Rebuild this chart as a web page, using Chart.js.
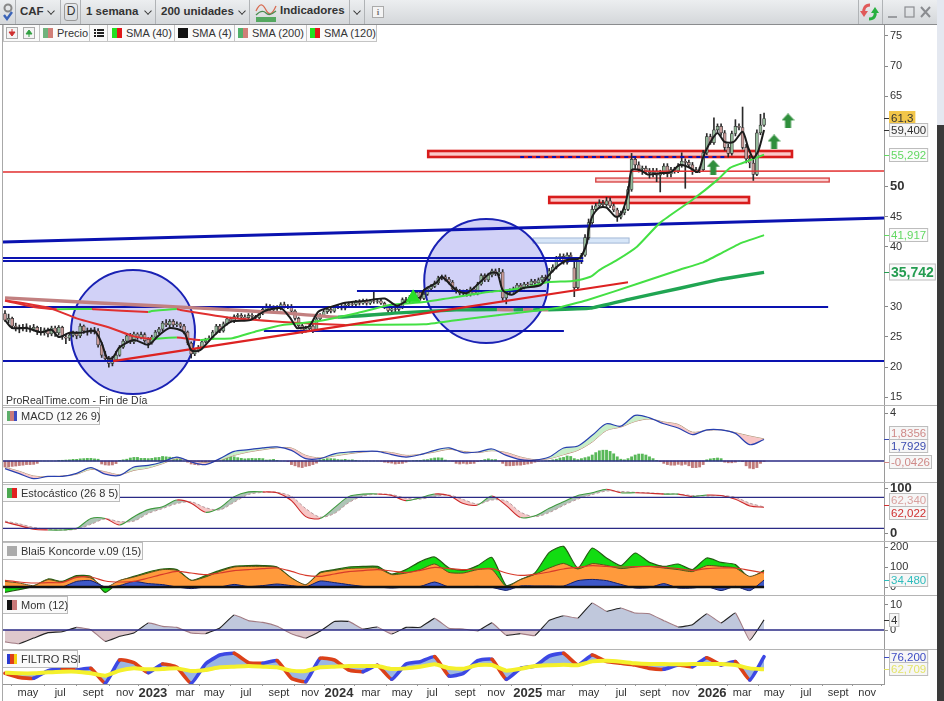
<!DOCTYPE html>
<html>
<head>
<meta charset="utf-8">
<title>CAF</title>
<script src="https://cdn.jsdelivr.net/npm/chart.js@4/dist/chart.umd.min.js"></script>
<style>
  html, body { margin: 0; padding: 0; background: #fff; }
  #app { position: relative; width: 944px; height: 701px; overflow: hidden; background: #fff; font-family: "Liberation Sans", Arial, sans-serif; color: #333; }
  canvas { position: absolute; left: 0; display: block; }
  .bar { position: absolute; left: 0; top: 0; width: 937px; height: 24px; background: linear-gradient(#eceef0, #d4d7da); border-bottom: 1px solid #8a8c8e; }
  .bar span { position: absolute; top: 5px; font-size: 11.5px; font-weight: bold; white-space: nowrap; }
  .sep { position: absolute; top: 0; width: 1px; height: 24px; background: #b0b3b6; }
  .caret { position: absolute; top: 8px; width: 5px; height: 5px; border-right: 1.6px solid #333; border-bottom: 1.6px solid #333; transform: rotate(45deg) scale(.9); }
  .chips { position: absolute; left: 3px; top: 25px; width: 374px; height: 17px; background: #fafafa; border: 1px solid #c4c4c4; border-top: 0; box-sizing: border-box; }
  .chips span { position: absolute; top: 2px; font-size: 11px; white-space: nowrap; }
  .chips i { position: absolute; top: 3px; width: 10px; height: 10px; }
  .chips b { position: absolute; top: 0; width: 1px; height: 17px; background: #c4c4c4; }
  .tag { position: absolute; left: 3px; height: 18px; background: #fafafa; border: 1px solid #bcbcbc; border-left: 0; box-sizing: border-box; font-size: 11px; line-height: 16px; padding-left: 18px; white-space: nowrap; }
  .tag i { position: absolute; left: 4px; top: 3px; width: 10px; height: 10px; }
  .rule { position: absolute; left: 3px; width: 934px; height: 1px; background: #b4b4b4; }
</style>
</head>
<body>
<div id="app">
  <div class="bar">
    <svg style="position:absolute;left:2px;top:2px" width="12" height="20"><circle cx="6" cy="6" r="3.5" fill="none" stroke="#888" stroke-width="2"/><path d="M2 13l3 4 5-7" fill="none" stroke="#3a63b8" stroke-width="2.4"/></svg>
    <div class="sep" style="left:15px"></div>
    <span style="left:20px">CAF</span><div class="caret" style="left:48px"></div>
    <div class="sep" style="left:60px"></div>
    <div style="position:absolute;left:64px;top:3px;width:12px;height:16px;border:1px solid #999;border-radius:3px;font-size:12px;text-align:center;line-height:15px">D</div>
    <div class="sep" style="left:80px"></div>
    <span style="left:86px">1 semana</span><div class="caret" style="left:145px"></div>
    <div class="sep" style="left:155px"></div>
    <span style="left:161px">200 unidades</span><div class="caret" style="left:239px"></div>
    <div class="sep" style="left:249px"></div>
    <svg style="position:absolute;left:255px;top:2px" width="22" height="20"><rect x="1" y="15" width="20" height="5" fill="#54a860"/><path d="M1 9c4-9 7-7 10-1s6 5 10-4" fill="none" stroke="#d86a50" stroke-width="1.3"/><path d="M1 13c4-4 7-5 10-2s6 1 10-2" fill="none" stroke="#4a8a50" stroke-width="1.3"/></svg>
    <span style="left:280px;top:4px">Indicadores</span>
    <div class="sep" style="left:349px"></div><div class="caret" style="left:354px"></div>
    <div class="sep" style="left:364px"></div>
    <div style="position:absolute;left:372px;top:6px;width:10px;height:10px;border:1px solid #aaa;background:#f4f4f4;font:bold 9px 'Liberation Serif';text-align:center;line-height:10px;color:#777">i</div>
    <div class="sep" style="left:858px"></div>
    <svg style="position:absolute;left:860px;top:3px" width="20" height="18"><path d="M10 2C5 2 3 6 4 10" fill="none" stroke="#e05a5a" stroke-width="3"/><path d="M0 8l4 6 4-6z" fill="#e05a5a"/><path d="M9 16c5 0 7-3 6-8" fill="none" stroke="#28b040" stroke-width="3"/><path d="M11 10l4-6 4 6z" fill="#28b040"/></svg>
    <div class="sep" style="left:882px"></div>
    <svg style="position:absolute;left:888px;top:6px" width="44" height="13" fill="none" stroke="#8a8c90" stroke-width="1.6"><path d="M0 11h9"/><rect x="17" y="1" width="9" height="10" stroke-width="1.2"/><path d="M33 1l9 10M42 1l-9 10" stroke-width="2"/></svg>
  </div>

  <div class="chips">
    <svg style="position:absolute;left:2px;top:2px" width="34" height="13"><rect x=".5" y=".5" width="11" height="11" fill="#f4f4f4" stroke="#aaa"/><path d="M6 2v4M3 5l3 4 3-4z" fill="#d03030" stroke="#d03030"/><rect x="17.500" y=".5" width="11" height="11" fill="#f4f4f4" stroke="#aaa"/><path d="M23 10V6M20 7l3-4 3 4z" fill="#30a040" stroke="#30a040"/></svg>
    <b style="left:35px"></b>
    <i style="left:39px;background:linear-gradient(90deg,#6fb27c 50%,#d07f78 50%)"></i><span style="left:53px">Precio</span>
    <b style="left:85px"></b>
    <svg style="position:absolute;left:90px;top:3px" width="10" height="10" fill="#222"><path d="M0 1h2v2H0zM3 1h7v2H3zM0 4h2v2H0zM3 4h7v2H3zM0 7h2v2H0zM3 7h7v2H3z"/></svg>
    <b style="left:103px"></b>
    <i style="left:108px;background:linear-gradient(90deg,#22e022 50%,#e01818 50%)"></i><span style="left:122px">SMA (40)</span>
    <b style="left:170px"></b>
    <i style="left:174px;background:#111"></i><span style="left:188px">SMA (4)</span>
    <b style="left:230px"></b>
    <i style="left:234px;background:linear-gradient(90deg,#52b06a 50%,#d07f78 50%)"></i><span style="left:248px">SMA (200)</span>
    <b style="left:302px"></b>
    <i style="left:306px;background:linear-gradient(90deg,#22e022 50%,#e01818 50%)"></i><span style="left:320px">SMA (120)</span>
  </div>
</div>

<script>
// candle rows, one per week, week 0 = april 2022
const candleOpen = [
  28.9,27.8,28.1,26.8,26.5,26.3,26.7,26.5,26.3,26.6,
  26.0,25.7,26.2,25.5,26.5,25.7,26.6,25.0,24.8,25.3,
  25.6,25.2,26.8,26.0,25.8,26.2,26.0,23.7,22.0,21.4,
  20.6,21.2,22.0,23.3,24.3,25.2,24.2,25.5,24.9,25.4,
  24.6,24.0,25.0,25.8,26.3,27.3,27.0,27.6,27.0,27.2,
  26.8,25.8,24.0,22.2,22.8,23.2,24.2,24.5,24.8,25.8,
  26.8,26.0,27.2,28.0,27.7,28.4,28.6,28.3,28.2,28.6,
  28.4,28.2,28.9,29.6,30.1,29.5,29.9,29.7,30.4,30.0,
  30.1,29.3,28.1,26.9,26.1,26.4,26.8,26.1,28.0,28.6,
  29.2,29.6,29.3,29.9,30.1,29.8,30.3,30.5,30.4,30.8,
  30.6,31.0,30.6,31.0,30.9,31.0,30.6,30.0,29.4,29.7,
  29.6,29.9,31.2,31.0,31.6,31.8,32.4,31.4,32.1,33.0,
  33.4,34.0,34.8,35.0,34.6,34.1,33.0,32.6,32.3,32.6,
  32.1,33.0,32.2,33.8,35.2,34.5,35.3,36.0,35.5,35.8,
  31.5,32.4,32.7,33.0,33.6,33.3,33.8,33.7,34.3,34.0,
  34.5,34.9,34.6,36.0,36.6,38.0,38.4,37.4,38.6,36.5,
  33.2,37.5,38.6,41.5,44.0,46.2,46.8,47.2,47.0,47.6,
  46.8,46.1,44.9,45.6,46.2,49.5,54.5,53.6,52.9,53.0,
  52.6,52.3,52.6,51.9,52.3,53.4,52.1,52.8,52.6,53.4,
  54.2,54.0,53.6,52.6,52.8,52.8,55.6,58.3,57.3,59.4,
  60.0,58.9,56.5,55.5,58.8,60.0,59.8,56.5,54.6,53.9,
  52.0,58.9,60.2
];
const candleHigh = [
  29.4,28.8,28.3,27.3,27.0,27.1,27.2,26.9,27.1,26.8,
  26.6,26.5,26.5,26.8,26.8,26.9,26.8,25.5,25.6,26.0,
  25.9,27.2,27.0,26.5,26.5,26.6,26.4,24.1,22.6,21.8,
  21.8,22.6,23.6,24.6,25.6,25.6,25.8,25.7,25.8,25.7,
  24.9,25.3,26.1,26.6,27.6,27.9,27.9,27.9,27.5,27.4,
  27.1,26.0,24.2,23.1,23.6,24.5,24.8,25.2,26.1,27.1,
  27.1,27.5,28.3,28.3,28.7,28.9,28.9,28.7,28.9,28.9,
  28.6,29.1,29.9,30.5,30.4,30.2,30.2,30.7,30.8,30.4,
  30.4,29.5,28.3,27.1,26.8,27.1,27.1,28.3,28.9,29.5,
  29.9,29.9,30.2,30.4,30.4,30.6,30.8,30.9,31.1,31.2,
  31.3,31.3,31.2,32.7,31.3,31.3,30.8,30.2,30.0,30.1,
  30.3,31.5,31.6,31.9,32.1,32.7,32.7,32.4,33.3,33.7,
  34.3,35.1,35.3,35.3,34.9,34.4,33.3,32.9,32.8,32.9,
  33.3,33.3,34.1,35.5,35.5,35.6,36.3,36.3,36.4,36.2,
  32.7,33.0,33.3,33.9,33.9,34.1,34.1,34.6,34.6,34.8,
  35.2,35.3,36.4,37.0,38.4,38.8,38.8,39.0,39.0,37.5,
  37.8,38.9,42.0,44.6,46.8,47.2,47.8,47.7,48.2,48.1,
  47.1,46.4,45.9,46.6,50.0,55.5,54.9,54.1,53.4,53.4,
  53.0,53.0,53.0,52.7,53.8,53.8,53.2,53.2,53.8,55.6,
  54.6,54.4,54.0,53.2,53.2,56.0,58.8,58.7,61.4,60.4,
  60.4,59.3,57.0,59.2,61.1,60.4,63.2,57.0,55.2,54.5,
  59.4,62.0,62.2
];
const candleLow = [
  27.6,27.3,26.4,26.0,25.7,26.0,25.9,25.8,26.0,25.4,
  25.3,25.3,25.0,25.2,25.1,25.3,24.6,23.9,24.4,25.0,
  24.7,24.9,25.6,25.3,25.6,25.5,23.3,21.6,20.9,20.0,
  20.2,21.0,21.8,23.1,24.0,23.9,23.9,24.6,24.7,24.1,
  23.2,23.8,24.7,25.5,26.0,26.7,26.7,26.7,26.7,26.5,
  25.5,23.7,21.5,21.9,22.5,23.0,24.0,24.3,24.6,25.5,
  25.7,25.8,27.0,27.4,27.4,28.2,28.0,27.9,28.0,27.9,
  27.9,28.0,28.7,29.4,29.2,29.3,29.4,29.5,29.8,29.7,
  29.0,27.8,26.6,25.6,25.8,26.2,25.7,25.9,27.8,28.4,
  28.9,29.0,29.1,29.7,29.5,29.5,30.1,30.1,30.2,30.3,
  30.4,30.3,30.4,30.6,30.6,30.4,29.7,29.1,29.0,29.2,
  29.3,29.7,30.7,30.7,31.3,31.5,31.1,31.2,31.9,32.8,
  33.2,33.7,34.5,34.3,33.8,32.7,32.3,32.0,32.0,31.8,
  31.8,32.0,32.0,33.6,34.2,34.2,35.0,35.2,35.2,31.1,
  30.5,32.1,32.4,32.8,33.0,33.0,33.4,33.5,33.7,33.8,
  34.2,34.3,34.4,35.8,36.3,37.7,37.1,37.1,37.9,31.7,
  33.0,37.2,38.4,41.2,43.7,45.9,46.5,46.6,46.7,46.5,
  45.8,44.2,44.6,45.3,46.0,49.2,53.0,52.4,52.0,52.1,
  51.4,51.6,50.8,49.1,52.0,51.6,51.6,52.2,52.3,53.2,
  49.7,53.2,52.0,52.3,52.3,52.6,55.3,57.0,57.0,59.1,
  58.5,56.0,54.9,55.2,58.4,59.4,56.2,53.9,53.1,51.0,
  51.8,58.6,60.0
];
const candleClose = [
  27.8,28.1,26.8,26.5,26.3,26.6,26.5,26.3,26.6,26.0,
  25.7,26.2,25.5,26.5,25.7,26.6,25.0,24.8,25.3,25.6,
  25.2,26.8,26.0,25.8,26.2,25.9,23.7,22.0,21.4,20.6,
  21.2,22.0,23.3,24.3,25.2,24.2,25.5,24.9,25.4,24.4,
  24.0,25.0,25.8,26.3,27.3,27.0,27.6,27.0,27.2,26.8,
  25.8,24.0,22.2,22.8,23.2,24.2,24.5,24.8,25.8,26.8,
  26.0,27.2,28.0,27.7,28.4,28.6,28.3,28.2,28.6,28.4,
  28.2,28.9,29.6,30.1,29.5,29.9,29.7,30.4,30.0,30.1,
  29.3,28.1,26.9,26.1,26.4,26.8,26.1,28.0,28.6,29.2,
  29.6,29.3,29.9,30.1,29.8,30.3,30.5,30.4,30.8,30.6,
  31.0,30.6,31.0,30.9,31.0,30.6,30.0,29.4,29.7,29.6,
  29.9,31.2,31.0,31.6,31.8,32.4,31.4,32.1,33.0,33.4,
  34.0,34.8,35.0,34.6,34.1,33.0,32.6,32.3,32.6,32.1,
  33.0,32.2,33.8,35.2,34.5,35.3,36.0,35.5,35.8,31.5,
  32.4,32.7,33.0,33.6,33.3,33.8,33.7,34.3,34.0,34.5,
  34.9,34.6,36.0,36.6,38.0,38.4,37.4,38.6,38.3,33.2,
  37.5,38.6,41.5,44.0,46.2,46.8,47.2,47.0,47.6,46.8,
  46.1,44.9,45.6,46.2,49.5,54.5,53.6,52.9,53.0,52.6,
  52.3,52.6,51.9,52.3,53.4,52.1,52.8,52.6,53.4,54.2,
  54.0,53.6,52.6,52.8,52.8,55.6,58.3,57.3,59.4,60.0,
  58.9,56.5,55.5,58.8,60.0,59.8,56.5,54.6,53.9,52.0,
  58.9,60.2,61.3
];

// moving averages at the weeks listed
const sma4Weeks = [0,2,6,10,13,15,18,21,25,27,28.5,30,32,36,40,43,46,50,52,54.5,58,63,68.5,72.5,77,79.5,81.5,82.5,85,87.5,91,95,100.5,106,109.5,113,116,117,120.5,122,126,129,132.5,135.5,137.5,139,141.5,144.5,149.5,151.5,154,157,160.5,162.5,163,164,166,168,170.5,172,174,175,177.5,179.5,183,186,188.5,191,193.5,195,197,199,201,203.5,206,207.5,209,210.5,212];
const sma4Values = [27.8,26.5,26.5,25.8,26.2,25,25.7,25.7,26,24,21.5,21.5,23.3,24.5,23.7,25.3,26.5,25.8,22.8,22.8,25,27.5,27.8,29.3,29.8,28.3,26.5,26.5,26.8,29.2,30,30.7,31,31.4,30.2,31.3,31.6,32.8,34,35,32.8,32.3,34,35.6,35.6,32.8,32,33.1,33.6,35,36.6,37.8,38.1,40.6,42.8,45,46.5,46.5,45,45.3,48.9,52.7,52.7,52,52.2,52.4,53.6,53.2,52.4,54.9,57.4,58.9,57.4,57.4,59.1,56.6,54.7,56.1,59.4];
const sma40Weeks = [0,12.5,20,29.5,36,41,44,48,54.5,58.5,63.5,70.5,77.5,82.5,89,98.5,107.5,117,124.5,135.5,144.5,151.5,158.5,163.5,166,171,176.5,183,192,199,202.5,206,212];
const sma40Values = [31.1,29.8,28.1,26.5,25.1,24.7,24.8,24.9,24.5,24.7,24.8,26,27,27.3,27.8,29,30.3,30.8,31.5,32.5,33.1,34.1,34.3,35,36.1,37.8,40,44,47.8,51.1,53.1,53.9,55.292];
const sma120Weeks = [0,8,14.5,19.5,24.3,25,40,41,48,49,63.5,77.5,88,95,102,117,126,137.5,154,162.5,177.5,188,195,200,205.5,212];
const sma120Values = [31,30,29.62,29.64,29.66,29.6,29.15,29.3,29.65,29.5,28.15,27.5,27.15,27,27.05,27.1,27.8,28.6,29.8,31.1,34,36.1,37.4,38.9,40.6,41.917];
const sma200Weeks = [0,26.5,54.5,77.7,93,110,126,137.4,142,144.7,147.5,149.4,151.7,163.5,174.5,188.5,200,212];
const sma200Values = [31.5,30.65,29.8,29,28.3,29,29.5,29.55,29.5,29.55,29.5,29.55,29.5,29.8,31.3,33.1,34.6,35.742];

// drawn objects on the price panel: [week, price] pairs
const blueChannel = [[-0.56,40.78],[245.5,44.77]];
const navyUpper = [[-0.56,38.12],[161.5,38.12]];
const navyLower = [[-0.56,37.62],[161.5,37.62]];
const navyThirty = [[-0.56,30],[229.9,30]];
const navyShort = [[72.3,26],[156.1,26]];
const navyCircle = [[98.3,32.64],[151.1,32.64]];
const navyTwenty = [[-0.56,21],[245.5,21]];
const navyDashed = [[143.9,54.9],[201.7,54.9]];
const redLevel = [[-0.56,52.4],[245.5,52.57]];
const redTrend = [[30.2,21],[174,34.1]];
const circleCentres = [[35.75,25.83],[134.4,34.3]];
const upArrows = [[218.7,60.9],[214.8,57.4],[197.8,53.2]];
const greenMarker = [[114,31.5]];
// [week start, week end, price top, price bottom]
const redZoneTop = [118.2,219.8,55.9,54.9];
const redZoneLow = [152,207.8,48.26,47.26];
const redZoneThin = [165,230.2,51.4,50.75];
const blueZone = [147.5,174.3,41.45,40.6];

// indicators sampled every 4 weeks
const sampleWeeks = [0,4,8,12,16,20,24,28,32,36,40,44,48,52,56,60,64,68,72,76,80,84,88,92,96,100,104,108,112,116,120,124,128,132,136,140,144,148,152,156,160,164,168,172,176,180,184,188,192,196,200,204,208,212];
const macdLine = [-.64,-1.05,-1.47,-1.28,-1.28,-1.03,-.56,-1.1,-1.2,-.5,-.36,-.08,.33,-.08,-.3,.2,.8,.94,1.1,1.17,.89,.2,.2,.6,.75,.8,.8,.53,.33,.53,.89,1.1,.7,.75,1,.47,.11,.08,.33,1.08,1.25,2.14,3.1,2.9,3.8,3.6,3.1,2.75,2.2,2.6,2.6,2.3,1.36,1.79];
const macdSignal = [-.53,-.86,-1.25,-1.3,-1.25,-1.1,-.7,-.9,-1.14,-.78,-.58,-.22,.2,0,-.14,.05,.47,.75,.94,1.1,1.08,.47,.25,.42,.6,.75,.8,.7,.47,.55,.75,.97,.8,.7,.86,.7,.33,.11,.2,.53,.89,1.58,2.55,2.83,3.3,3.5,3.25,3.05,2.4,2.55,2.6,2.36,2.08,1.84];
// one bar per week
const macdHist = [
  -.5,-.5,-.45,-.42,-.38,-.35,-.3,-.3,-.28,-.2,
  0,0,0,0,0,.05,.06,.08,.1,.14,
  .14,.18,.2,.22,.22,.18,.15,
  -.25,-.33,-.35,-.33,-.22,
  .05,.1,.15,.25,.3,.3,.22,.22,.2,.22,.28,.3,.38,.35,.32,.3,.3,.2,
  0,-.1,-.25,-.3,-.33,-.3,-.2,-.08,0,.02,
  .1,.2,.3,.4,.35,.28,.22,.18,.2,.22,.2,.22,.2,.08,.1,.14,.05,
  0,0,
  -.05,-.3,-.4,-.5,-.55,-.45,-.4,-.3,-.18,
  .1,.15,.2,.2,.18,.12,.1,.14,.08,.1,.05,
  0,0,0,0,0,0,-.02,
  -.1,-.15,-.18,-.25,-.22,-.2,-.1,
  0,.03,.05,
  .05,.1,.12,.2,.25,.27,.25,.08,
  0,-.02,
  -.2,-.25,-.2,-.25,-.22,-.2,
  -.05,.05,.12,.18,.12,.12,-.02,
  -.2,-.4,-.4,-.38,-.35,-.35,-.3,-.25,-.2,-.1,
  -.03,0,.02,.05,
  .1,.15,.25,.3,.42,.38,.2,.12,.2,.28,.35,.5,.7,.85,.9,.9,.8,.6,.35,.15,.1,.2,.35,.5,.58,.58,.5,
  .35,.2,.05,
  -.05,-.2,-.3,-.35,-.35,-.28,-.35,-.28,-.4,-.55,-.55,-.5,-.3,
  .1,.18,.22,.25,.2,
  -.1,-.15,-.15,-.1,
  0,-.05,
  -.4,-.6,-.65,-.55,-.2,-.04
];
const stochK = [25,17,9,7.4,7.4,11,33,33,18.5,37,52.6,59,74,67,46.7,57,81.5,92,92,90,72.6,37,33,57,81.5,87,87.4,84,72.6,79,87.4,84,66,63,83,61.5,35,39,55.6,70,84,90,98,90,90,89,87,87,81.5,85,84,75.6,60.7,58];
const stochD = [27,21,13,9,7.5,9,20,32,26,27,44,55,66,70,57,52,69,86,91,91,82,55,36,44,68,83,87,86,78,76,82,85,75,65,74,72,47,37,46,62,76,86,94,93,91,90,88,87,84,83,84,80,67,58.500];
const koncordeGreen = [-27,-13,3,40,28,57,53,-27,28,53,75,90,87,33,57,83,103,107,107,100,45,8,73,87,100,103,103,65,87,127,150,95,83,107,148,7,37,70,173,203,95,195,145,107,170,123,103,115,87,145,123,112,45,83];
const koncordeOrange = [28,20,7,37,25,53,45,-2,33,50,70,87,83,33,50,78,100,103,103,98,45,12,70,83,93,95,95,62,70,87,115,73,70,87,88,3,37,63,95,118,90,117,108,92,100,103,95,87,77,107,103,95,53,78];
const koncordeBlue = [0,0,0,-3,0,28,32,0,7,28,17,12,0,-8,0,0,13,2,7,15,7,0,30,22,12,3,0,-5,0,3,25,0,0,3,-2,-17,5,5,5,5,32,38,32,13,-5,-3,17,-5,-5,2,-18,3,-18,34.48];
const koncordeRed = [33,25,20,22,23,48,50,30,25,28,45,63,78,70,62,70,82,87,92,95,78,58,53,65,77,82,87,80,73,83,98,92,87,90,92,70,58,63,75,90,98,107,103,100,102,103,98,92,83,92,95,95,83,70];
const momentum = [-4.7,-5.4,-3.2,-1.05,-.66,1.05,.13,-4.5,-2.5,-1.2,2.8,1.45,1.05,-1.2,-1.45,.8,5.9,3.7,3,1.45,-1.45,-3.2,-.5,3.4,3.4,.4,1.2,-1.6,1.05,1.05,4.6,.66,.4,-.4,2.8,-2.1,-1.45,-2.2,3.8,5.66,4.7,10.7,7.4,8.7,6.7,6.45,3.7,1.2,2.1,6.45,2.8,6.7,-4.1,4];
const rsiFilter = [58.4,54.1,53.1,61.3,63.7,62,63.7,47.7,72.6,69.8,59.1,68.4,64.8,47.7,68.4,78,79.8,69.8,69.1,71.9,53.1,49.5,74.4,72.6,62,60.2,67,52,68.4,70.9,76.2,55.6,58.4,71.9,73.4,52,63.7,66.2,76.9,79.8,67.3,78,70.9,69.1,67.3,63.7,62.7,67.3,65.5,75.1,67.3,70.9,51.3,76.2];
const rsiSignal = [59.1,58.4,58.4,59.5,60.2,60.2,58.4,55.9,61.3,63.7,62.7,63,63.7,60.9,62,64.8,65.5,66.2,65.5,64.8,61.3,60.9,64.8,65.5,66.2,66.2,66.2,63,63.7,65.5,68,64,63.3,67.3,67.3,61.3,63.4,66.2,67,67.6,67,71.2,71.9,70.9,69.1,68.4,68.4,68,68.4,68.4,68.4,67.3,63.7,62.709];

// x axis
const monthLabels = ['may','jul','sept','nov','2023','mar','may','jul','sept','nov','2024','mar','may','jul','sept','nov','2025','mar','may','jul','sept','nov','2026','mar','may','jul','sept','nov'];
const monthWeeks = [6.4,15.4,24.6,33.5,41.3,50.3,58.4,67.3,76.5,85.2,93.3,102.2,110.9,119.3,128.5,137.2,146,153.9,163.1,172.1,180.2,188.8,197.5,205.9,214.8,223.7,232.7,240.8];

// y axis labels per panel
const priceTicks = [75,70,65,50,45,40,30,25,20,15];
const macdTicks = [4];
const stochTicks = [100,0];
const koncordeTicks = [200,100,0];
const momTicks = [10,0];

Chart.defaults.font.family = '"Liberation Sans", Arial, sans-serif';
Chart.defaults.color = '#333';

const NAVY = '#0a12b0';
const LINE_NAVY = '#2a2a85';
const pairs = list => list.map(p => ({ x: p[0], y: p[1] }));
const zip = (xs, ys) => xs.map((x, i) => ({ x, y: ys[i] }));
const sampled = ys => zip(sampleWeeks, ys);
const slope = (up, down) => ({ borderColor: c => (c.p1.parsed.y >= c.p0.parsed.y ? up : down) });
const flat = (y, color, width, order) => ({
  type: 'line', data: [{ x: sampleWeeks[0] - 0.56, y }, { x: 245.5, y }],
  borderColor: color, borderWidth: width, pointRadius: 0, order
});
const level = (points, color, width, extra) => Object.assign({
  type: 'line', data: pairs(points), borderColor: color, borderWidth: width, pointRadius: 0, order: 15
}, extra || {});
const noPadding = s => { s.paddingTop = s.paddingBottom = s.paddingLeft = s.paddingRight = 0; };

function makePanel(cfg) {
  const canvas = document.createElement('canvas');
  canvas.width = 937;
  canvas.height = cfg.height;
  canvas.style.top = cfg.top + 'px';
  document.getElementById('app').appendChild(canvas);

  const tickFont = ctx => (ctx.tick && cfg.boldTicks && cfg.boldTicks.includes(ctx.tick.value))
    ? { size: 13, weight: 'bold' } : { size: 11 };

  // zones are drawn through the scales, under the candles
  const zonePlugin = {
    id: 'zones',
    beforeDatasetsDraw(chart) {
      const { x, y } = chart.scales;
      const c = chart.ctx;
      (cfg.zones || []).forEach(z => {
        const l = x.getPixelForValue(z.box[0]), r = x.getPixelForValue(z.box[1]);
        const t = y.getPixelForValue(z.box[2]), b = y.getPixelForValue(z.box[3]);
        c.fillStyle = z.fill;
        c.fillRect(l, t, r - l, b - t);
        c.strokeStyle = z.stroke;
        c.lineWidth = z.width;
        c.strokeRect(l, t, r - l, b - t);
      });
    }
  };

  // value chips on the right axis
  const chipPlugin = {
    id: 'valueChips',
    afterDraw(chart) {
      const c = chart.ctx;
      const scale = chart.scales.y;
      (cfg.chips || []).forEach(chip => {
        const py = Math.round(scale.getPixelForValue(chip.value));
        const cy = py + (chip.dy || 0);
        c.save();
        c.font = (chip.bold ? 'bold 14px' : '11.5px') + ' "Liberation Sans"';
        const w = c.measureText(chip.text).width + 4;
        const h = chip.bold ? 17 : 14;
        c.strokeStyle = chip.tick || chip.color;
        c.lineWidth = 1;
        c.beginPath();
        c.moveTo(884, py + 0.5);
        c.lineTo(889, py + 0.5);
        c.stroke();
        c.fillStyle = chip.bg || '#f6f6f6';
        c.fillRect(889, cy - h / 2, w, h);
        if (chip.border !== false) {
          c.strokeStyle = '#bdbdbd';
          c.strokeRect(889.5, cy - h / 2 + 0.5, w - 1, h - 1);
        }
        c.fillStyle = chip.color;
        c.textBaseline = 'middle';
        c.fillText(chip.text, 891, cy + 1);
        c.restore();
      });
    }
  };

  return new Chart(canvas, {
    type: 'bar',
    data: { datasets: cfg.datasets },
    plugins: [zonePlugin, chipPlugin],
    options: {
      responsive: false,
      animation: false,
      events: [],
      layout: { autoPadding: false, padding: { left: 3, right: 0, top: 0, bottom: 0 } },
      plugins: { legend: { display: false }, tooltip: { enabled: false } },
      datasets: { line: { tension: 0.3 } },
      scales: {
        x: {
          type: 'linear', offset: false, min: -0.56, max: 245.5,
          display: !!cfg.showMonths,
          afterFit: s => { s.height = cfg.showMonths ? 17 : 0; noPadding(s); },
          afterBuildTicks: s => { s.ticks = monthWeeks.map(value => ({ value })); },
          grid: { drawOnChartArea: false, drawTicks: true, tickLength: 2, color: '#999' },
          border: { color: '#999' },
          ticks: {
            autoSkip: false, maxRotation: 0, minRotation: 0, padding: 0,
            callback: (v, i) => monthLabels[i],
            font: ctx => {
              const label = monthLabels[ctx.index];
              return label && /^\d+$/.test(label) ? { size: 13, weight: 'bold' } : { size: 11 };
            }
          }
        },
        y: {
          position: 'right', min: cfg.min, max: cfg.max,
          afterFit: s => { s.width = 53; noPadding(s); },
          afterBuildTicks: s => { s.ticks = (cfg.ticks || []).map(value => ({ value })); },
          grid: { drawOnChartArea: false, drawTicks: true, tickLength: 4, color: '#888' },
          border: { color: '#9a9a9a' },
          ticks: { padding: 2, font: tickFont, callback: v => String(v) }
        }
      }
    }
  });
}

// little up arrow used as point style
function arrowImage() {
  const c = document.createElement('canvas');
  c.width = 13; c.height = 15;
  const g = c.getContext('2d');
  g.fillStyle = '#2f8f3c';
  g.beginPath();
  g.moveTo(6.5, 0); g.lineTo(13, 7); g.lineTo(9.5, 7); g.lineTo(9.5, 15);
  g.lineTo(3.5, 15); g.lineTo(3.5, 7); g.lineTo(0, 7);
  g.closePath(); g.fill();
  return c;
}

const weeks = candleClose.map((_, i) => i);

makePanel({
  top: 25, height: 380, min: 75 - (405 - 36) / 6.02, max: 75 + 11 / 6.02,
  ticks: priceTicks, boldTicks: [50],
  zones: [
    { box: redZoneTop, fill: '#fbc8c8', stroke: '#d81c1c', width: 2.6 },
    { box: redZoneLow, fill: '#fbc8c8', stroke: '#d81c1c', width: 2.6 },
    { box: redZoneThin, fill: '#fbcfcf', stroke: '#d84848', width: 1.4 },
    { box: blueZone, fill: '#d7e6f8', stroke: '#a4b8d6', width: 1 }
  ],
  chips: [
    { text: '61,3', value: 61.3, color: '#333', bg: '#f2c64a', border: false, tick: '#333' },
    { text: '59,400', value: 59.4, color: '#333', tick: '#333' },
    { text: '55,292', value: 55.292, color: '#62d862', bg: '#fbfbfb' },
    { text: '41,917', value: 41.917, color: '#62d862', bg: '#fbfbfb' },
    { text: '35,742', value: 35.742, color: '#249c50', bg: '#fbfbfb', bold: true }
  ],
  datasets: [
    { type: 'line', data: pairs(circleCentres), showLine: false, pointRadius: 62, pointBorderWidth: 2,
      pointBackgroundColor: 'rgba(62,62,222,.24)', pointBorderColor: '#1a22b4', order: 100 },
    level(blueChannel, NAVY, 3.2),
    level(navyUpper, NAVY, 2),
    level(navyLower, NAVY, 2),
    level(navyThirty, NAVY, 2),
    level(navyShort, NAVY, 2),
    level(navyCircle, NAVY, 2),
    level(navyTwenty, NAVY, 2),
    level(redLevel, '#e23030', 1.6),
    level(redTrend, '#dd2222', 2.2, { order: 9 }),
    level(navyDashed, NAVY, 2, { borderDash: [4, 4], order: 9 }),
    { type: 'bar', data: weeks.map(i => ({ x: i, y: [candleLow[i], candleHigh[i]] })),
      grouped: false, barThickness: 1, backgroundColor: '#2a2a2a', order: 22 },
    { type: 'bar', data: weeks.map(i => ({ x: i, y: [candleOpen[i], candleClose[i]] })),
      grouped: false, barThickness: 3, borderWidth: 0.7, borderSkipped: false, borderColor: '#333',
      backgroundColor: weeks.map(i => (candleClose[i] >= candleOpen[i] ? '#94b99a' : '#c99a98')), order: 20 },
    { type: 'line', data: zip(sma200Weeks, sma200Values), borderWidth: 3.4, pointRadius: 0, tension: 0.1,
      borderColor: '#c08080', segment: slope('#20a552', '#c28080'), order: 12 },
    { type: 'line', data: zip(sma120Weeks, sma120Values), borderWidth: 2, pointRadius: 0, tension: 0.1,
      borderColor: '#e02020', segment: slope('#44e044', '#e03030'), order: 11 },
    { type: 'line', data: zip(sma40Weeks, sma40Values), borderWidth: 2, pointRadius: 0, tension: 0.2,
      borderColor: '#e02020', segment: slope('#44e044', '#e03030'), order: 10 },
    { type: 'line', data: zip(sma4Weeks, sma4Values), borderColor: '#1c1c1c', borderWidth: 2, pointRadius: 0, tension: 0.25, order: 5 },
    { type: 'line', data: pairs(upArrows), showLine: false, pointStyle: arrowImage(), order: 2 },
    { type: 'line', data: pairs(greenMarker), showLine: false, pointStyle: 'triangle', pointRadius: 8, rotation: 0,
      pointBackgroundColor: '#28e028', pointBorderColor: '#28e028', order: 2 }
  ]
});

makePanel({
  top: 405, height: 77, min: -21 / 12, max: 56 / 12,
  ticks: macdTicks,
  chips: [
    { text: '1,8356', value: 1.8356, dy: -6, color: '#cf8a88' },
    { text: '1,7929', value: 1.7929, dy: 7, color: '#3c4cb0' },
    { text: '-0,0426', value: -0.0426, color: '#cf8a88' }
  ],
  datasets: [
    { type: 'line', data: sampled(macdLine), borderColor: '#2840b0', borderWidth: 1.2, pointRadius: 0,
      fill: { target: '+1', above: '#c8eec8', below: '#f8c6c6' }, order: 3 },
    { type: 'line', data: sampled(macdSignal), borderColor: '#b08a70', borderWidth: 1, pointRadius: 0, order: 4 },
    { type: 'bar', data: weeks.map(i => ({ x: i, y: macdHist[i] })), grouped: false, barThickness: 2.2,
      backgroundColor: macdHist.map(v => (v >= 0 ? '#58b858' : '#c07a7a')), order: 6 },
    flat(0, LINE_NAVY, 1.3, 1)
  ]
});

makePanel({
  top: 482, height: 59, min: -(541 - 533.3) / 0.45, max: (533.3 - 482) / 0.45,
  ticks: stochTicks, boldTicks: [100, 0],
  chips: [
    { text: '62,340', value: 62.34, dy: -5, color: '#d9a09e' },
    { text: '62,022', value: 62.022, dy: 8, color: '#cf3030' }
  ],
  datasets: [
    // fill first, the coloured line goes on top so the fill has no seams
    { type: 'line', data: sampled(stochK), borderWidth: 0, pointRadius: 0,
      fill: { target: '+1', above: '#aec4b6', below: '#f6c6c6' }, order: 5 },
    { type: 'line', data: sampled(stochD), borderWidth: 1, pointRadius: 0, borderColor: '#b9989c', borderDash: [3, 2], order: 4 },
    { type: 'line', data: sampled(stochK), borderWidth: 1.1, pointRadius: 0, borderColor: '#cc2a2a',
      segment: slope('#3f9a3f', '#cc2a2a'), order: 3 },
    flat(80, LINE_NAVY, 1.3, 1),
    flat(11, LINE_NAVY, 1.3, 1)
  ]
});

makePanel({
  top: 541, height: 54, min: -40, max: 230,
  ticks: koncordeTicks,
  chips: [{ text: '34,480', value: 34.48, color: '#2fbcbc' }],
  datasets: [
    { type: 'line', data: sampled(koncordeGreen), borderColor: '#245c12', borderWidth: 1.2, pointRadius: 0, tension: 0.2,
      backgroundColor: '#12dc12', fill: 'origin', order: 6 },
    { type: 'line', data: sampled(koncordeOrange), borderColor: '#5b4f1a', borderWidth: 1, pointRadius: 0, tension: 0.2,
      backgroundColor: '#ff9a3c', fill: 'origin', order: 5 },
    { type: 'line', data: sampled(koncordeBlue), borderColor: '#12206a', borderWidth: 1, pointRadius: 0, tension: 0.2,
      backgroundColor: '#3e58c8', fill: 'origin', order: 4 },
    { type: 'line', data: sampled(koncordeRed), borderColor: '#d83a2a', borderWidth: 1.2, pointRadius: 0, order: 3 },
    { type: 'line', data: [{ x: -0.56, y: 0 }, { x: 212, y: 0 }], borderColor: '#111', borderWidth: 2.4, pointRadius: 0, order: 1 }
  ]
});

makePanel({
  top: 595, height: 54, min: -19 / 2.53, max: 35 / 2.53,
  ticks: momTicks,
  chips: [{ text: '4', value: 4, color: '#333', tick: '#333' }],
  datasets: [
    { type: 'line', data: sampled(momentum), borderWidth: 0, pointRadius: 0, tension: 0.1,
      fill: { target: { value: 0 }, above: '#c0c8dc', below: '#dec8cc' }, order: 5 },
    { type: 'line', data: sampled(momentum), borderWidth: 1.1, pointRadius: 0, tension: 0.1, borderColor: '#222',
      segment: slope('#222', '#a27c84'), order: 3 },
    flat(0, LINE_NAVY, 1.3, 1)
  ]
});

makePanel({
  top: 649, height: 52, min: 47, max: 84.4,
  showMonths: true,
  chips: [
    { text: '76,200', value: 76.2, color: '#3e4cc4' },
    { text: '62,709', value: 62.709, color: '#e4e46a' }
  ],
  datasets: [
    { type: 'line', data: sampled(rsiFilter), borderWidth: 0, pointRadius: 0, tension: 0.15,
      fill: { target: '+1', above: '#9ab6e4', below: '#9ab6e4' }, order: 6 },
    { type: 'line', data: sampled(rsiSignal), borderWidth: 4, pointRadius: 0, tension: 0.15, borderColor: '#f4f02c', order: 2 },
    { type: 'line', data: sampled(rsiFilter), borderWidth: 3.6, pointRadius: 0, tension: 0.15, borderColor: '#e04018',
      borderCapStyle: 'round', segment: slope('#3c48e4', '#dc4018'), order: 3 }
  ]
});

// html labels over the panels
const app = document.getElementById('app');
[['MACD (12 26 9)', 407, 97, 'linear-gradient(90deg,#5cae6a 33%,#c87a7a 33% 66%,#3c4cc0 66%)'],
 ['Estocástico (26 8 5)', 484, 117, 'linear-gradient(90deg,#4ca850 50%,#e02020 50%)'],
 ['Blai5 Koncorde v.09 (15)', 542, 140, '#aaaaaa'],
 ['Mom (12)', 596, 65, 'linear-gradient(90deg,#111 50%,#c87878 50%)'],
 ['FILTRO RSI', 650, 75, 'linear-gradient(90deg,#2a3ad0 33%,#e04018 33% 66%,#f4d010 66%)']
].forEach(([text, top, width, swatch]) => {
  const tag = document.createElement('div');
  tag.className = 'tag';
  tag.style.top = top + 'px';
  tag.style.width = width + 'px';
  tag.textContent = text;
  const i = document.createElement('i');
  i.style.background = swatch;
  tag.appendChild(i);
  app.appendChild(tag);
});

[405, 482, 541, 595, 649].forEach(top => {
  const rule = document.createElement('div');
  rule.className = 'rule';
  rule.style.top = top + 'px';
  app.appendChild(rule);
});

const credit = document.createElement('div');
credit.textContent = 'ProRealTime.com - Fin de Día';
credit.style.cssText = 'position:absolute;left:6px;top:394px;font-size:10.5px;white-space:nowrap';
app.appendChild(credit);

const leftEdge = document.createElement('div');
leftEdge.style.cssText = 'position:absolute;left:2px;top:25px;width:1px;height:676px;background:#a8a8a8';
app.appendChild(leftEdge);

const edge = document.createElement('div');
edge.style.cssText = 'position:absolute;left:937px;top:0;width:7px;height:701px;background:linear-gradient(#e4e8f0 0 125px,#3a3a3a 125px)';
app.appendChild(edge);
</script>
</body>
</html>
